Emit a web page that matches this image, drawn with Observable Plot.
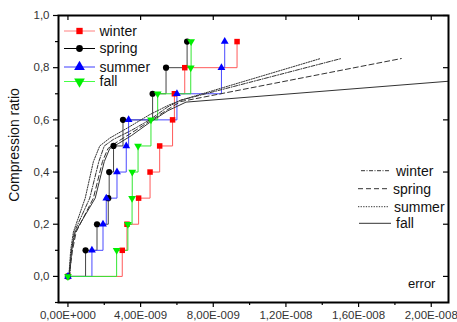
<!DOCTYPE html>
<html>
<head>
<meta charset="utf-8">
<script src="https://cdn.jsdelivr.net/npm/d3@7"></script>
<script src="https://cdn.jsdelivr.net/npm/@observablehq/plot@0.6"></script>
<style>
  html, body { margin: 0; padding: 0; background: white; }
  #chart svg { display: block; }
</style>
</head>
<body>
<div id="chart"></div>
<script>
// ---- data ----
const seriesNames = ["winter", "spring", "summer", "fall"];
const yLevels = [0, 0.1, 0.2, 0.3, 0.4, 0.5, 0.6, 0.7, 0.8, 0.9];
const winterX = [0, 2.99e-9, 3.25e-9, 3.89e-9, 4.52e-9, 5.05e-9, 5.76e-9, 5.86e-9, 6.43e-9, 9.31e-9];
const springX = [0, 0.97e-9, 1.6e-9, 2.22e-9, 2.27e-9, 2.51e-9, 3.03e-9, 4.66e-9, 5.4e-9, 6.56e-9];
const summerX = [0, 1.32e-9, 1.93e-9, 2.11e-9, 2.7e-9, 3.21e-9, 3.34e-9, 6.0e-9, 8.45e-9, 8.63e-9];
const fallX   = [0, 2.68e-9, 3.3e-9, 3.53e-9, 3.54e-9, 3.86e-9, 4.57e-9, 4.94e-9, 6.76e-9, 6.78e-9];

// fitted curves
const winterFitX = [0.1e-9, 0.2e-9, 0.35e-9, 1.2e-9, 1.7e-9, 2.0e-9, 2.5e-9, 3.5e-9, 4.5e-9, 5.5e-9, 6.2e-9, 15.04e-9];
const winterFitY = [0.0, 0.1, 0.17, 0.3, 0.44, 0.5, 0.525, 0.56, 0.6, 0.65, 0.675, 0.835];
const springFitX = [0.1e-9, 0.25e-9, 0.45e-9, 1.4e-9, 1.9e-9, 2.2e-9, 2.7e-9, 3.5e-9, 4.5e-9, 5.5e-9, 6.2e-9, 18.35e-9];
const springFitY = [0.02, 0.1, 0.17, 0.3, 0.44, 0.49, 0.515, 0.55, 0.595, 0.64, 0.67, 0.835];
const summerFitX = [0.05e-9, 0.15e-9, 0.3e-9, 0.95e-9, 1.4e-9, 1.75e-9, 2.3e-9, 3.3e-9, 4.5e-9, 5.5e-9, 6.2e-9, 13.9e-9];
const summerFitY = [0.0, 0.1, 0.17, 0.3, 0.44, 0.5, 0.53, 0.57, 0.62, 0.655, 0.675, 0.835];
const fallFitX   = [0.05e-9, 0.2e-9, 0.4e-9, 1.5e-9, 2.0e-9, 2.3e-9, 2.8e-9, 3.5e-9, 4.5e-9, 5.5e-9, 6.5e-9, 20.95e-9];
const fallFitY   = [0.0, 0.1, 0.17, 0.3, 0.44, 0.49, 0.51, 0.54, 0.59, 0.635, 0.668, 0.748];

// ticks
const xTicks = [0, 4e-9, 8e-9, 1.2e-8, 1.6e-8, 2e-8];
const xTickLabels = ["0,00E+000", "4,00E-009", "8,00E-009", "1,20E-008", "1,60E-008", "2,00E-008"];
const xMinorTicks = [2e-9, 6e-9, 1e-8, 1.4e-8, 1.8e-8];
const yTicks = [0, 0.2, 0.4, 0.6, 0.8, 1.0];
const yTickLabels = ["0,0", "0,2", "0,4", "0,6", "0,8", "1,0"];
const yMinorTicks = [-0.1, 0.1, 0.3, 0.5, 0.7, 0.9];

const yLabel = "Compression ratio";
const xNote = "error";

// ---- styles ----
const FONT = "'Liberation Sans', Arial, Helvetica, sans-serif";
const lineColors = {winter: "#ff5a5a", spring: "#444444", summer: "#4a4aff", fall: "#33e633"};
const markColors = {winter: "#ff0000", spring: "#000000", summer: "#0000ff", fall: "#00ee00"};
const fitDash = {winter: "4,1.5,1,1.5", spring: "5,3", summer: "1.3,1.3", fall: null};

const stepX = {winter: winterX, spring: springX, summer: summerX, fall: fallX};
const fitXs = {winter: winterFitX, spring: springFitX, summer: summerFitX, fall: fallFitX};
const fitYs = {winter: winterFitY, spring: springFitY, summer: summerFitY, fall: fallFitY};

const steps = seriesNames.map(s => stepX[s].map((x, i) => ({s, x, y: yLevels[i]})));
const fits = seriesNames.map(s => fitXs[s].map((x, i) => ({s, x, y: fitYs[s][i]})));

const W = 457, H = 322, mL = 58, mR = 9, mT = 15, mB = 20;
const innerW = W - mL - mR, innerH = H - mT - mB;

const marks = [];
// step lines
steps.forEach(d => {
  const s = d[0].s;
  marks.push(Plot.line(d, {x: "x", y: "y", curve: "step-after", stroke: lineColors[s], strokeWidth: 1}));
});
// fitted curves
fits.forEach(d => {
  const s = d[0].s;
  marks.push(Plot.line(d, {x: "x", y: "y", curve: "linear", stroke: "#333", strokeWidth: 1, strokeDasharray: fitDash[s] || undefined}));
});
// markers
const symbolOf = {winter: "square", spring: "circle", summer: "triangle", fall: "triangle"};
const rOf = {winter: 3.1, spring: 3.1, summer: 2.9, fall: 2.9};
steps.forEach(d => {
  const s = d[0].s;
  marks.push(Plot.dot(d, {x: "x", y: "y", symbol: symbolOf[s], r: rOf[s], fill: markColors[s], stroke: "none", rotate: s === "fall" ? 180 : 0}));
});

// axes
marks.push(
  Plot.axisX({ticks: xTicks, tickFormat: d => xTickLabels[xTicks.indexOf(d)], anchor: "bottom", tickSize: 5, tickPadding: 3, fontSize: 11.5, fill: "#333", stroke: "#000", strokeWidth: 1.2, label: null}),
  Plot.axisX({ticks: xMinorTicks, tickFormat: () => "", anchor: "bottom", tickSize: 3, stroke: "#000", strokeWidth: 1.2, label: null}),
  Plot.axisY({ticks: yTicks, tickFormat: d => yTickLabels[yTicks.indexOf(d)], anchor: "left", tickSize: 5, tickPadding: 4, fontSize: 11.5, fill: "#333", stroke: "#000", strokeWidth: 1.2, label: null}),
  Plot.axisY({ticks: yMinorTicks, tickFormat: () => "", anchor: "left", tickSize: 3, stroke: "#000", strokeWidth: 1.2, label: null}),
  Plot.tickX(xTicks, {x: d => d, insetBottom: innerH - 5, stroke: "#000", strokeWidth: 1.2}),
  Plot.tickY(yTicks, {y: d => d, insetLeft: innerW - 5, stroke: "#000", strokeWidth: 1.2}),
  Plot.frame({stroke: "#000", strokeWidth: 2})
);

const svg = Plot.plot({
  width: W, height: H,
  marginLeft: mL, marginRight: mR, marginTop: mT, marginBottom: mB,
  style: {fontFamily: FONT, background: "white", overflow: "visible"},
  x: {domain: [-0.52e-9, 20.95e-9]},
  y: {domain: [-0.1, 1.0]},
  marks
});

// ---- annotations & legends ----
const g = d3.select(svg).append("g").attr("font-family", FONT).attr("text-anchor", "start");

// y label
g.append("text").attr("transform", "translate(19,145) rotate(-90)")
  .attr("text-anchor", "middle").attr("font-size", 14).attr("fill", "#111").text(yLabel);
// x note
g.append("text").attr("x", 408).attr("y", 288).attr("font-size", 13).attr("fill", "#111").text(xNote);

// legend 1 (markers)
const leg1Y = [31, 48.5, 67, 81.5];
const legLineColors = {winter: "#ff8080", spring: "#000000", summer: "#3c3cff", fall: "#44ff44"};
const legSym = {winter: d3.symbolSquare, spring: d3.symbolCircle, summer: d3.symbolTriangle, fall: d3.symbolTriangle};
const legSize = {winter: 40, spring: 36, summer: 50, fall: 50};
seriesNames.forEach((s, i) => {
  const y = leg1Y[i];
  g.append("line").attr("x1", 64).attr("x2", 95).attr("y1", y).attr("y2", y)
    .attr("stroke", legLineColors[s]).attr("stroke-width", 1);
  g.append("path").attr("d", d3.symbol(legSym[s], legSize[s])())
    .attr("transform", `translate(79.5,${y})` + (s === "fall" ? " rotate(180)" : ""))
    .attr("fill", markColors[s]);
  g.append("text").attr("x", 99.5).attr("y", y).attr("dy", "0.35em")
    .attr("font-size", 14).attr("fill", "#111").text(s);
});

// legend 2 (fit lines)
const leg2Y = [170.7, 188.7, 206.7, 223.3];
const leg2X1 = [361, 358, 358, 359];
const leg2X2 = [390, 387, 388, 391];
const leg2TX = [396, 393, 394, 396];
seriesNames.forEach((s, i) => {
  const y = leg2Y[i];
  const ln = g.append("line").attr("x1", leg2X1[i]).attr("x2", leg2X2[i]).attr("y1", y).attr("y2", y)
    .attr("stroke", "#333").attr("stroke-width", 1);
  if (fitDash[s]) ln.attr("stroke-dasharray", fitDash[s]);
  g.append("text").attr("x", leg2TX[i]).attr("y", y).attr("dy", "0.35em")
    .attr("font-size", 14).attr("fill", "#111").text(s);
});

document.getElementById("chart").appendChild(svg);
</script>
</body>
</html>
